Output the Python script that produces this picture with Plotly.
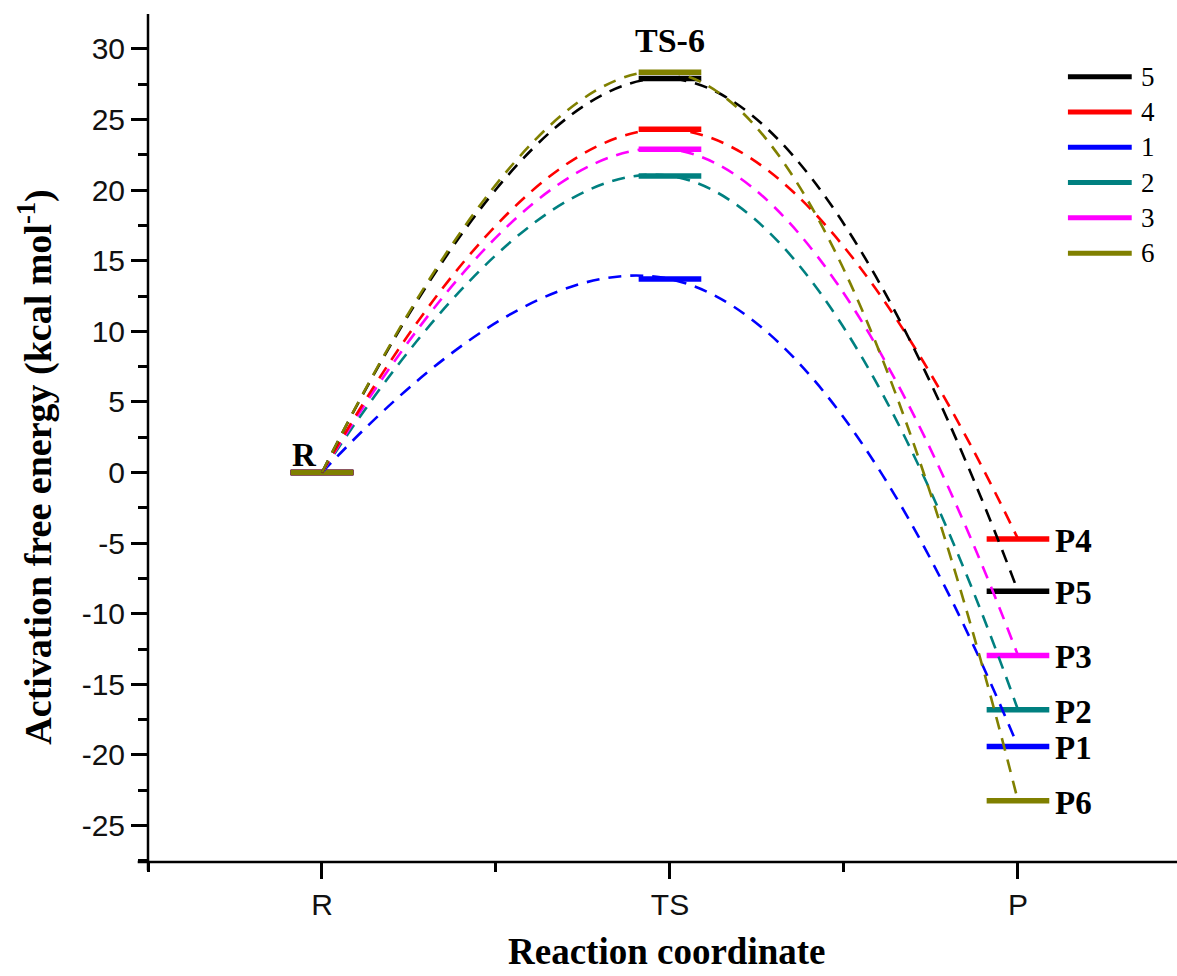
import plotly.graph_objects as go

stages = ["R", "TS", "P"]
stage_pos = [1, 2, 3]
series_names = ["1", "2", "3", "4", "5", "6"]
colors = ["#0000ff", "#008080", "#ff00ff", "#ff0000", "#000000", "#808000"]
r_energy = [0, 0, 0, 0, 0, 0]
ts_energy = [13.7, 21.0, 22.9, 24.3, 27.9, 28.35]
p_energy = [-19.4, -16.8, -12.95, -4.7, -8.4, -23.25]
p_labels = ["P1", "P2", "P3", "P4", "P5", "P6"]
legend_order = ["5", "4", "1", "2", "3", "6"]
y_tick_values = [-25, -20, -15, -10, -5, 0, 5, 10, 15, 20, 25, 30]
y_tick_labels = [str(v) for v in y_tick_values]

HALF = 0.09  # half-width of energy level bars (x units)

fig = go.Figure()

# energy level bars
for i, name in enumerate(series_names):
    xs, ys = [], []
    for pos, e in zip(stage_pos, [r_energy[i], ts_energy[i], p_energy[i]]):
        xs += [pos - HALF, pos + HALF, None]
        ys += [e, e, None]
    fig.add_trace(go.Scatter(x=xs, y=ys, mode="lines",
                             line=dict(color=colors[i], width=5.5),
                             name=name, showlegend=False))

# dashed connecting curves
for i, name in enumerate(series_names):
    fig.add_trace(go.Scatter(
        x=stage_pos, y=[r_energy[i], ts_energy[i], p_energy[i]],
        mode="lines", line=dict(color=colors[i], width=2.6, dash="13px,9px", shape="spline", smoothing=1.3),
        showlegend=False, hoverinfo="skip"))

annotations = []
# P labels
for i, lab in enumerate(p_labels):
    annotations.append(dict(x=3 + HALF, y=p_energy[i], xref="x", yref="y", text="<b>%s</b>" % lab,
                            showarrow=False, xanchor="left", yanchor="middle", xshift=4, yshift=-2,
                            font=dict(family="Liberation Serif", size=33, color="black")))
# R label
annotations.append(dict(x=1, y=0, xref="x", yref="y", text="<b>R</b>", showarrow=False,
                        xanchor="right", yanchor="bottom", xshift=-3, yshift=-2,
                        font=dict(family="Liberation Serif", size=33, color="black")))
# TS-6 label
i6 = series_names.index("6")
annotations.append(dict(x=2, y=ts_energy[i6], xref="x", yref="y", text="<b>TS-6</b>", showarrow=False,
                        xanchor="center", yanchor="bottom", yshift=11,
                        font=dict(family="Liberation Serif", size=34, color="black")))
# axis titles
annotations.append(dict(x=0.5, y=-0.105, xref="paper", yref="paper", text="<b>Reaction coordinate</b>",
                        showarrow=False, xanchor="center", yanchor="middle", xshift=4,
                        font=dict(family="Liberation Serif", size=37, color="black")))
annotations.append(dict(x=-0.109, y=0.466, xref="paper", yref="paper",
                        text="<b>Activation free energy (kcal mol<sup>-1</sup>)</b>",
                        showarrow=False, textangle=-90, xanchor="center", yanchor="middle",
                        font=dict(family="Liberation Serif", size=38, color="black")))

shapes = []
# custom legend
L_X0, L_X1, L_TX = 0.894, 0.956, 0.963
L_Y0, L_DY = 0.926, 0.0416
for k, name in enumerate(legend_order):
    i = series_names.index(name)
    yk = L_Y0 - k * L_DY
    shapes.append(dict(type="line", xref="paper", yref="paper", x0=L_X0, x1=L_X1, y0=yk, y1=yk,
                       line=dict(color=colors[i], width=5)))
    annotations.append(dict(x=L_TX, y=yk, xref="paper", yref="paper", text=name, showarrow=False,
                            xanchor="left", yanchor="middle",
                            font=dict(family="Liberation Serif", size=27, color="black")))

# axis lines (Origin-style, slightly overhanging)
shapes.append(dict(type="line", xref="paper", yref="paper", x0=-0.010, x1=1, y0=0, y1=0,
                   line=dict(color="black", width=2.5)))
shapes.append(dict(type="line", xref="paper", yref="paper", x0=0, x1=0, y0=-0.010, y1=1,
                   line=dict(color="black", width=2.5)))

fig.update_layout(
    width=1177, height=976,
    margin=dict(l=148, r=0, t=14, b=114),
    paper_bgcolor="white", plot_bgcolor="white",
    showlegend=False,
    annotations=annotations, shapes=shapes,
    xaxis=dict(range=[0.5, 3.457], tickmode="array", tickvals=stage_pos, ticktext=stages,
               showgrid=False, zeroline=False, showline=False,
               ticks="outside", ticklen=16, tickwidth=2.5, tickcolor="black",
               minor=dict(tickmode="linear", tick0=0.5, dtick=0.5, ticks="outside", ticklen=9,
                          tickwidth=2.5, tickcolor="black", showgrid=False),
               tickfont=dict(family="Liberation Sans", size=30, color="#111")),
    yaxis=dict(range=[-27.58, 32.47], tickmode="array", tickvals=y_tick_values, ticktext=y_tick_labels,
               showgrid=False, zeroline=False, showline=False,
               ticks="outside", ticklen=16, tickwidth=2.5, tickcolor="black",
               minor=dict(tickmode="linear", tick0=0, dtick=2.5, ticks="outside", ticklen=9,
                          tickwidth=2.5, tickcolor="black", showgrid=False),
               tickfont=dict(family="Liberation Sans", size=30, color="#111")),
)

fig.write_html("out.html", config={"displayModeBar": False},
               post_script="document.body.style.margin='0px';")
